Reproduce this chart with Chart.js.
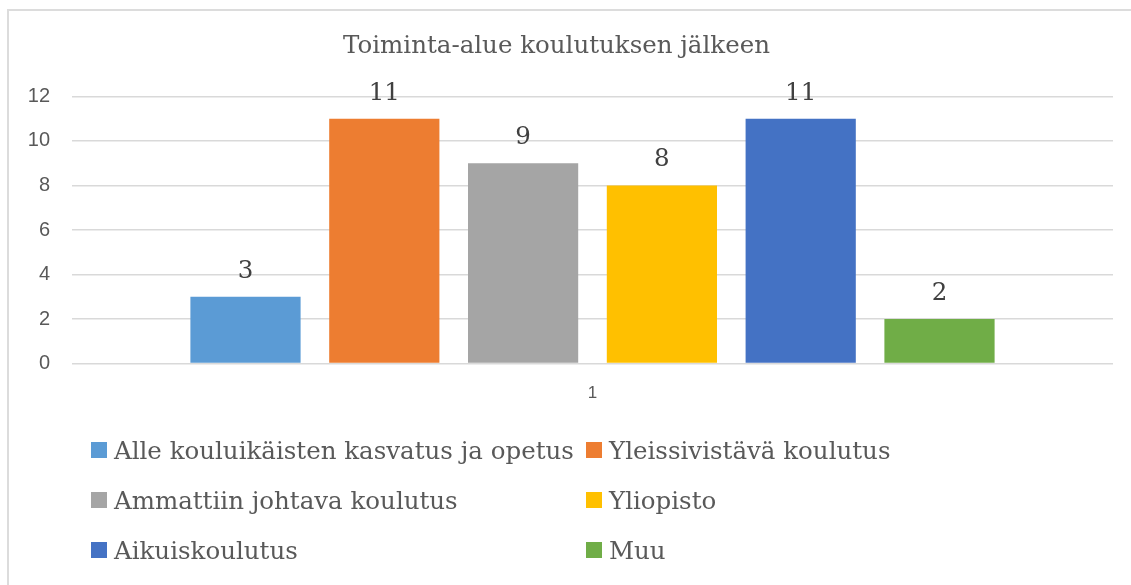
<!DOCTYPE html>
<html>
<head>
<meta charset="utf-8">
<script src="https://cdn.jsdelivr.net/npm/chart.js@4"></script>
<style>
  html, body { margin: 0; padding: 0; background: #fff; overflow: hidden; }
  #frame { position: absolute; left: 7px; top: 9px; width: 1300px; height: 700px; border: 2px solid #dcdcdc; border-right: none; border-bottom: none; }
  #wrap { position: absolute; left: 0; top: 0; width: 1131px; height: 440px; }
  #legend { position: absolute; left: 91px; top: 425px; display: grid; grid-template-columns: 495px 430px; }
  .item { height: 50px; display: flex; align-items: center; font-family: "DejaVu Serif", serif; font-size: 24.5px; color: #595959; white-space: nowrap; }
  .box { width: 16px; height: 16px; margin-right: 7px; flex: none; }
</style>
</head>
<body>
<div id="frame"></div>
<div id="wrap"><canvas id="chart"></canvas></div>
<div id="legend"></div>
<script>
// Données du graphique
const title = 'Toiminta-alue koulutuksen jälkeen';
const categories = ['1'];
const seriesNames = [
  'Alle kouluikäisten kasvatus ja opetus',
  'Yleissivistävä koulutus',
  'Ammattiin johtava koulutus',
  'Yliopisto',
  'Aikuiskoulutus',
  'Muu'
];
const seriesValues = [3, 11, 9, 8, 11, 2];
const seriesColors = ['#5B9BD5', '#ED7D31', '#A5A5A5', '#FFC000', '#4472C4', '#70AD47'];

// Étiquettes de valeur au-dessus des barres
const valueLabels = {
  id: 'valueLabels',
  afterDatasetsDraw(chart) {
    const ctx = chart.ctx;
    ctx.save();
    ctx.font = '24.5px "DejaVu Serif", serif';
    ctx.fillStyle = '#404040';
    ctx.textAlign = 'center';
    ctx.textBaseline = 'alphabetic';
    chart.data.datasets.forEach((ds, i) => {
      chart.getDatasetMeta(i).data.forEach((bar, j) => {
        ctx.fillText(String(ds.data[j]), bar.x, bar.y - 19);
      });
    });
    ctx.restore();
  }
};

const ctx = document.getElementById('chart').getContext('2d');
const chart = new Chart(ctx, {
  type: 'bar',
  data: {
    labels: categories,
    datasets: seriesNames.map((name, i) => ({
      label: name,
      data: [seriesValues[i]],
      backgroundColor: seriesColors[i],
      borderWidth: 0,
      categoryPercentage: 0.8,
      barPercentage: 0.794
    }))
  },
  options: {
    responsive: true,
    maintainAspectRatio: false,
    animation: false,
    layout: { padding: { left: 0, right: 18, top: 20, bottom: 16 } },
    scales: {
      y: {
        min: 0,
        max: 12,
        ticks: { stepSize: 2, padding: 22, color: '#595959', font: { family: 'Liberation Sans', size: 20 } },
        grid: { color: '#d9d9d9', lineWidth: 1.5, drawTicks: false },
        border: { display: false },
        afterFit(scale) { scale.width = 72; }
      },
      x: {
        ticks: { padding: 20, color: '#595959', font: { family: 'Liberation Sans', size: 17 } },
        grid: { display: false, drawTicks: false },
        border: { display: false }
      }
    },
    plugins: {
      legend: { display: false },
      tooltip: { enabled: false },
      title: {
        display: true,
        text: title,
        color: '#595959',
        font: { family: 'DejaVu Serif', size: 24.5, weight: 'normal' },
        padding: { top: 12, bottom: 35 }
      }
    }
  },
  plugins: [valueLabels]
});

// Légende HTML en deux colonnes
const legend = document.getElementById('legend');
seriesNames.forEach((name, i) => {
  const item = document.createElement('div');
  item.className = 'item';
  item.innerHTML = '<span class="box" style="background:' + seriesColors[i] + '"></span><span>' + name + '</span>';
  legend.appendChild(item);
});
</script>
</body>
</html>
